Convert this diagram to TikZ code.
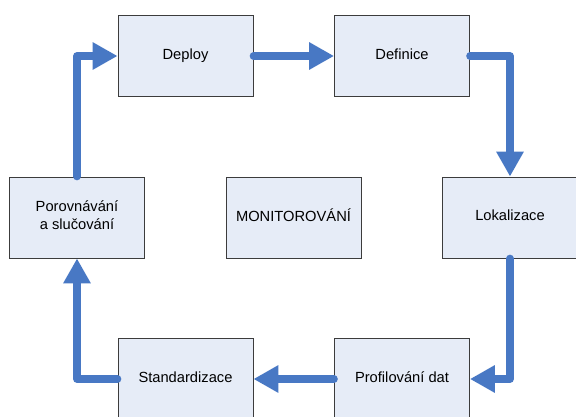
\documentclass[tikz,border=0pt]{standalone}
\usepackage{fontspec}
\setmainfont{Liberation Sans}
\usetikzlibrary{positioning,arrows.meta}
\definecolor{flowblue}{HTML}{4878C4}
\definecolor{boxfill}{HTML}{E6ECF7}
\definecolor{boxline}{HTML}{3C3C3C}

\begin{document}
\begin{tikzpicture}[>={Triangle[length=25pt,width=26pt]},on grid,node distance=161.5pt and 216.5pt,main node/.style={rectangle,draw=boxline,fill=boxfill,line width=0.9pt,minimum width=135pt,minimum height=81pt,inner sep=0pt,align=center,font=\fontsize{14.7}{17.5}\selectfont,execute at begin node=\strut,execute at end node=\strut},flow/.style={->,draw=flowblue,line width=7.5pt,line cap=round,line join=round}]
                \useasboundingbox (0,0) rectangle (576pt,-417pt);

                \node[main node] (deploy) at (185.5pt,-56pt) {Deploy};
                \node[main node] (definice) [right=of deploy] {Definice};
                \node[main node] (porovnani) [below left=161.5pt and 108.5pt of deploy] {Porovnávání\\a slučování};
                \node[main node] (monitor) [right=of porovnani] {MONITOROVÁNÍ};
                \node[main node] (lokalizace) [right=of monitor] {Lokalizace};
                \node[main node] (standard) [below=323pt of deploy] {Standardizace};
                \node[main node] (profil) [right=of standard] {Profilování dat};

                \draw[flow] (deploy.east) -- (definice.west);
                \draw[flow] (definice.east) -| (lokalizace.north);
                \draw[flow] (lokalizace.south) |- (profil.east);
                \draw[flow] (profil.west) -- (standard.east);
                \draw[flow] (standard.west) -| (porovnani.south);
                \draw[flow] (porovnani.north) |- (deploy.west);
            \end{tikzpicture}
\end{document}
